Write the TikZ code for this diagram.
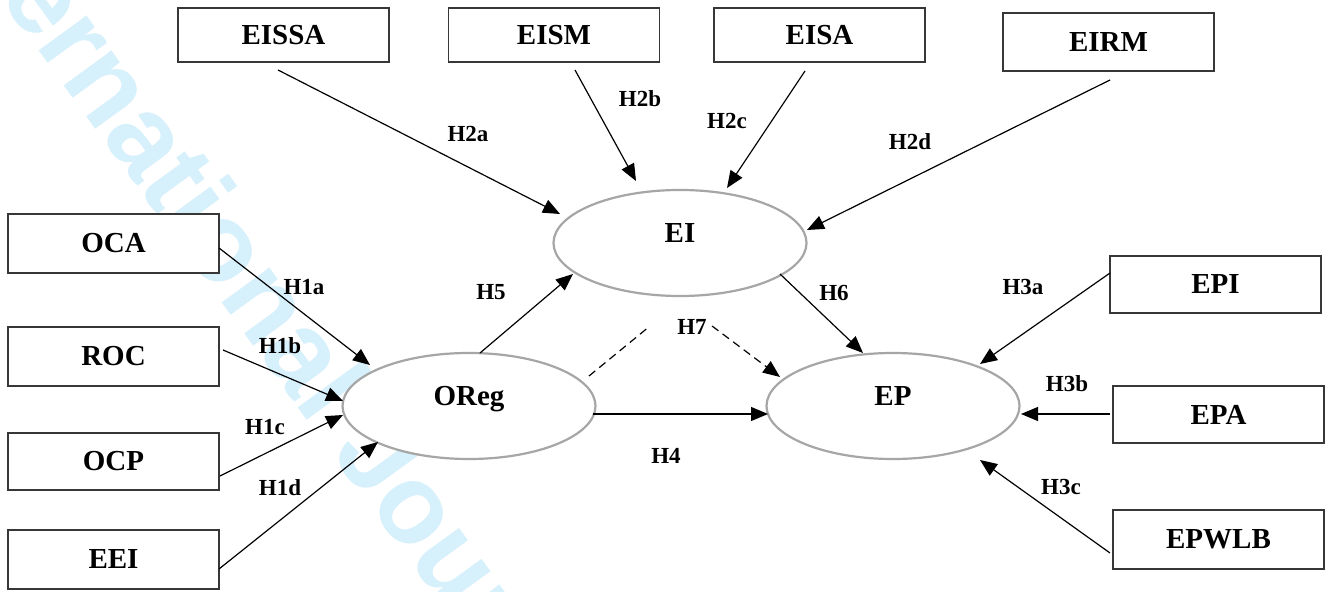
\documentclass[tikz,border=0pt]{standalone}
\usepackage{fontspec}
\setmainfont{Liberation Serif}
\newfontfamily\wmfont{Liberation Sans}
\usetikzlibrary{arrows.meta,calc,shapes.geometric}
\definecolor{wm}{RGB}{214,240,252}
\definecolor{ellgray}{RGB}{166,166,166}
\definecolor{boxgray}{RGB}{55,55,55}
\begin{document}
\begin{tikzpicture}[x=0.5pt,y=-0.5pt,
  stepbox/.style={draw=boxgray,line width=0.9pt,fill=white,minimum width=105.5pt,
    minimum height=27pt,inner sep=0pt,font=\fontsize{14.5}{16}\selectfont\bfseries},
  ell/.style={ellipse,draw=ellgray,line width=1.1pt,fill=white,minimum width=126.5pt,
    minimum height=53pt,inner sep=0pt},
  elltxt/.style={anchor=base,inner sep=0pt,font=\fontsize{14.5}{16}\selectfont\bfseries},
  lbl/.style={inner sep=0pt,font=\fontsize{11.5}{13}\selectfont\bfseries},
  arr/.style={line width=0.6pt,-{Triangle[length=8.5pt,width=7pt]}},
  dashline/.style={line width=0.6pt,dash pattern=on 4pt off 2.6pt},
  wmtext/.style={inner sep=0pt,text=wm,font=\wmfont\bfseries\fontsize{56}{60}\selectfont}
]
\useasboundingbox (0,0) rectangle (1326,592);
\fill[white] (0,0) rectangle (1326,592);
\begin{scope}
\clip (0,0) rectangle (1326,592);
\node[wmtext,rotate=-54,anchor=base west] (wmark) at (-83,-117) {International Journal of Manpower};
\end{scope}

% boxes
\node[stepbox] (EISSA) at (283.5,35) {EISSA};
\node[stepbox] (EISM) at (554,35) {EISM};
\node[stepbox] (EISA) at (819.5,35) {EISA};
\node[stepbox,minimum height=29pt] (EIRM) at (1108.5,42) {EIRM};
\node[stepbox,minimum height=29.5pt] (OCA) at (113.5,243.5) {OCA};
\node[stepbox,minimum height=29.5pt] (ROC) at (113.5,356.5) {ROC};
\node[stepbox,minimum height=28.5pt] (OCP) at (113.5,461.5) {OCP};
\node[stepbox,minimum height=29.5pt] (EEI) at (113.5,559.5) {EEI};
\node[stepbox,minimum height=28.5pt] (EPI) at (1215.5,284.5) {EPI};
\node[stepbox,minimum height=28.5pt] (EPA) at (1218.5,414.5) {EPA};
\node[stepbox,minimum height=29.5pt] (EPWLB) at (1218.5,539.5) {EPWLB};

% ellipses
\node[ell] (EI) at (680,243) {};
\node[elltxt] (EIt) at (680,243) {EI};
\node[ell] (OReg) at (469,406) {};
\node[elltxt] (ORegt) at (469,406) {OReg};
\node[ell] (EP) at (893,406) {};
\node[elltxt] (EPt) at (893,406) {EP};

% arrows to EI
\draw[arr] ($(EISSA)+(-5.5,35)$) -- ($(EI)+(-120,-29)$);
\draw[arr] ($(EISM)+(21,35)$) -- ($(EI)+(-44,-62)$);
\draw[arr] ($(EISA)+(-14.5,36)$) -- ($(EI)+(47,-55)$);
\draw[arr] ($(EIRM)+(1.5,38)$) -- ($(EI)+(127,-13)$);

% arrows to OReg
\draw[arr] ($(OCA)+(105.5,4.5)$) -- ($(OReg)+(-99,-41)$);
\draw[arr] ($(ROC)+(109.5,-6.5)$) -- ($(OReg)+(-126,-5)$);
\draw[arr] ($(OCP)+(106.5,14.5)$) -- ($(OReg)+(-126,9)$);
\draw[arr] ($(EEI)+(105.5,9.5)$) -- ($(OReg)+(-91,36)$);

% structural paths
\draw[arr] ($(OReg)+(11,-53)$) -- ($(EI)+(-107,31)$);
\draw[arr] ($(EI)+(100,31)$) -- ($(EP)+(-30,-53)$);
\draw[arr] ($(OReg)+(124,8)$) -- ($(EP)+(-125,8)$);
\coordinate (h7a) at (650,326);
\coordinate (h7b) at (712,326);
\draw[dashline] ($(OReg)+(120,-30)$) -- (h7a);
\draw[dashline,arr] (h7b) -- ($(EP)+(-113,-29)$);

% arrows to EP
\draw[arr] ($(EPI)+(-105.5,-11.5)$) -- ($(EP)+(87,-42)$);
\draw[arr] ($(EPA)+(-108.5,-0.5)$) -- ($(EP)+(128,8)$);
\draw[arr] ($(EPWLB)+(-108.5,13.5)$) -- ($(EP)+(87,54)$);

% labels
\node[lbl] (lH2a) at (468,134) {H2a};
\node[lbl] (lH2b) at (640,99) {H2b};
\node[lbl] (lH2c) at (727,121) {H2c};
\node[lbl] (lH2d) at (910,142) {H2d};
\node[lbl] (lH1a) at (304,287) {H1a};
\node[lbl] (lH1b) at (280,346) {H1b};
\node[lbl] (lH1c) at (265,427) {H1c};
\node[lbl] (lH1d) at (280,488) {H1d};
\node[lbl] (lH5) at (491,292) {H5};
\node[lbl] (lH6) at (834,293) {H6};
\node[lbl] (lH7) at (692,327) {H7};
\node[lbl] (lH4) at (666,456) {H4};
\node[lbl] (lH3a) at (1023,287) {H3a};
\node[lbl] (lH3b) at (1067,384) {H3b};
\node[lbl] (lH3c) at (1061,487) {H3c};
\end{tikzpicture}
\end{document}
